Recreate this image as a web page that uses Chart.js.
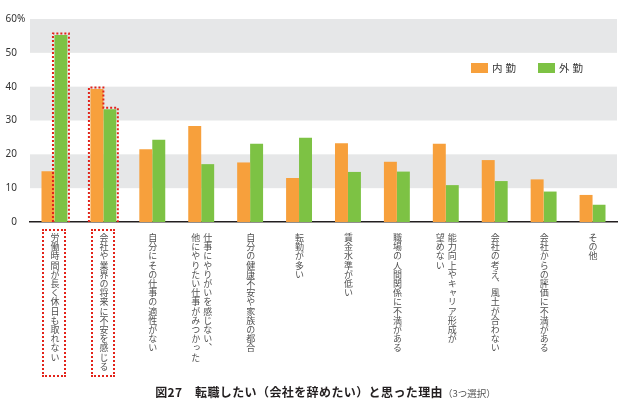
<!DOCTYPE html>
<html lang="ja">
<head>
<meta charset="utf-8">
<script src="https://cdn.jsdelivr.net/npm/chart.js@4"></script>
<style>
  body { margin: 0; background: #fff; }
  #wrap { position: relative; width: 621px; height: 400px; font-family: "Noto Sans CJK JP", "Noto Sans", sans-serif; color: #333; }
  canvas { position: absolute; left: 0; top: 0; }
  .cat { position: absolute; top: 233px; writing-mode: vertical-rl; font-size: 9px; line-height: 12px; letter-spacing: 0.2px; color: #505050; white-space: pre; transform: translateX(-50%); }
  .hlbox { position: absolute; top: 229px; width: 20px; height: 144px; border: 2px dotted #e2231a; transform: translateX(-50%); }
  .legend { position: absolute; top: 60px; left: 471px; font-size: 10.5px; display: flex; align-items: center; }
  .legend span.box { display: inline-block; width: 17px; height: 10px; margin-right: 4px; }
  .legend span.txt { letter-spacing: 3px; margin-right: 19px; }
  #title { position: absolute; top: 383px; left: 0; width: 651px; text-align: center; font-size: 12px; font-weight: bold; letter-spacing: 0.4px; color: #231f20; }
  #title small { font-size: 9.5px; font-weight: normal; color: #555; letter-spacing: 0; }
</style>
</head>
<body>
<div id="wrap">
  <canvas id="barChart" width="621" height="400"></canvas>
  <div class="legend" id="legend"></div>
  <div id="title">図27　転職したい（会社を辞めたい）と思った理由<small>（3つ選択）</small></div>
</div>
<script>
// データ
const categories = [
  '労働時間が長く休日も取れない',
  '会社や業界の将来に不安を感じる',
  '自分にその仕事の適性がない',
  '仕事にやりがいを感じない、\n他にやりたい仕事がみつかった',
  '自分の健康不安や家族の都合',
  '転勤が多い',
  '賃金水準が低い',
  '職場の人間関係に不満がある',
  '能力向上やキャリア形成が\n望めない',
  '会社の考え、風土が合わない',
  '会社からの評価に不満がある',
  'その他'
];
const seriesNames = ['内勤', '外勤'];
const naikin = [15.0, 39.3, 21.5, 28.4, 17.6, 13.0, 23.3, 17.8, 23.1, 18.3, 12.6, 8.0];
const gaikin = [55.3, 33.3, 24.3, 17.1, 23.1, 24.9, 14.8, 14.9, 10.9, 12.1, 9.0, 5.1];
const yTicks = [0, 10, 20, 30, 40, 50, 60];
// 強調（赤点線）: カテゴリ番号と対象系列
const highlights = [
  { index: 0, series: [1] },
  { index: 1, series: [0, 1] }
];

const colors = ['#f7a03c', '#7dc244'];
const TICK_PAD = 13;

// ✅ Gray bands behind bars
const bandPlugin = {
  id: 'bands',
  beforeDatasetsDraw(chart) {
    const { ctx, chartArea: a, scales: { y } } = chart;
    ctx.save();
    ctx.fillStyle = '#e6e7e8';
    for (let i = 1; i < yTicks.length - 1; i += 2) {
      const top = y.getPixelForValue(yTicks[i + 1]);
      const bot = y.getPixelForValue(yTicks[i]);
      ctx.fillRect(a.left, top, a.right - a.left, bot - top);
    }
    ctx.restore();
  }
};

// ✅ Red dotted outline around highlighted bars + "%" sign
const outlinePlugin = {
  id: 'outline',
  afterDatasetsDraw(chart) {
    const { ctx, chartArea: a, scales: { y } } = chart;
    const p = 1.5;
    ctx.save();
    ctx.strokeStyle = '#e2231a';
    ctx.lineWidth = 2;
    ctx.setLineDash([2, 2]);
    highlights.forEach(h => {
      const bars = h.series.map(s => chart.getDatasetMeta(s).data[h.index]);
      const first = bars[0], last = bars[bars.length - 1];
      ctx.beginPath();
      ctx.moveTo(first.x - first.width / 2 - p, a.bottom);
      ctx.lineTo(first.x - first.width / 2 - p, first.y - p);
      for (let i = 1; i < bars.length; i++) {
        const edge = bars[i - 1].x + bars[i - 1].width / 2;
        ctx.lineTo(edge, bars[i - 1].y - p);
        ctx.lineTo(edge, bars[i].y - p);
      }
      ctx.lineTo(last.x + last.width / 2 + p, last.y - p);
      ctx.lineTo(last.x + last.width / 2 + p, a.bottom);
      ctx.stroke();
    });
    ctx.restore();

    // % after top tick label
    ctx.save();
    ctx.font = '10px "Noto Sans", sans-serif';
    ctx.fillStyle = '#333';
    ctx.textBaseline = 'middle';
    ctx.fillText('%', a.left - TICK_PAD, y.getPixelForValue(yTicks[yTicks.length - 1]));
    ctx.restore();
  }
};

// ✅ HTML vertical category labels, placed from the x scale
const labelPlugin = {
  id: 'vlabels',
  afterRender(chart) {
    if (chart._labelsDone) return;
    chart._labelsDone = true;
    const wrap = document.getElementById('wrap');
    const x = chart.scales.x;
    categories.forEach((c, i) => {
      const el = document.createElement('div');
      el.className = 'cat';
      el.textContent = c;
      el.style.left = x.getPixelForValue(i) + 'px';
      wrap.appendChild(el);
    });
    highlights.forEach(h => {
      const box = document.createElement('div');
      box.className = 'hlbox';
      box.style.left = x.getPixelForValue(h.index) + 'px';
      wrap.appendChild(box);
    });
  }
};

// ✅ Legend
const legendEl = document.getElementById('legend');
seriesNames.forEach((name, i) => {
  legendEl.innerHTML += `<span class="box" style="background:${colors[i]}"></span><span class="txt">${name}</span>`;
});

// ✅ Chart
new Chart(document.getElementById('barChart'), {
  type: 'bar',
  data: {
    labels: categories,
    datasets: [
      { label: seriesNames[0], data: naikin, backgroundColor: colors[0] },
      { label: seriesNames[1], data: gaikin, backgroundColor: colors[1] }
    ]
  },
  options: {
    responsive: false,
    animation: false,
    devicePixelRatio: 1,
    layout: { padding: { top: 12, right: 4, bottom: 178, left: 0 } },
    datasets: { bar: { barPercentage: 1, categoryPercentage: 0.53 } },
    plugins: { legend: { display: false }, tooltip: { enabled: false } },
    scales: {
      x: {
        grid: { display: false },
        ticks: { display: false },
        border: { display: true, color: '#231f20', width: 1.5 },
        afterFit: s => { s.height = 0; }
      },
      y: {
        min: 0,
        max: 60,
        afterBuildTicks: s => { s.ticks = yTicks.map(v => ({ value: v })); },
        grid: { display: false, drawTicks: false },
        border: { display: false },
        ticks: {
          padding: TICK_PAD,
          color: '#333',
          font: { family: '"Noto Sans", sans-serif', size: 10 }
        },
        afterFit: s => { s.width = 30; }
      }
    }
  },
  plugins: [bandPlugin, outlinePlugin, labelPlugin]
});
</script>
</body>
</html>
